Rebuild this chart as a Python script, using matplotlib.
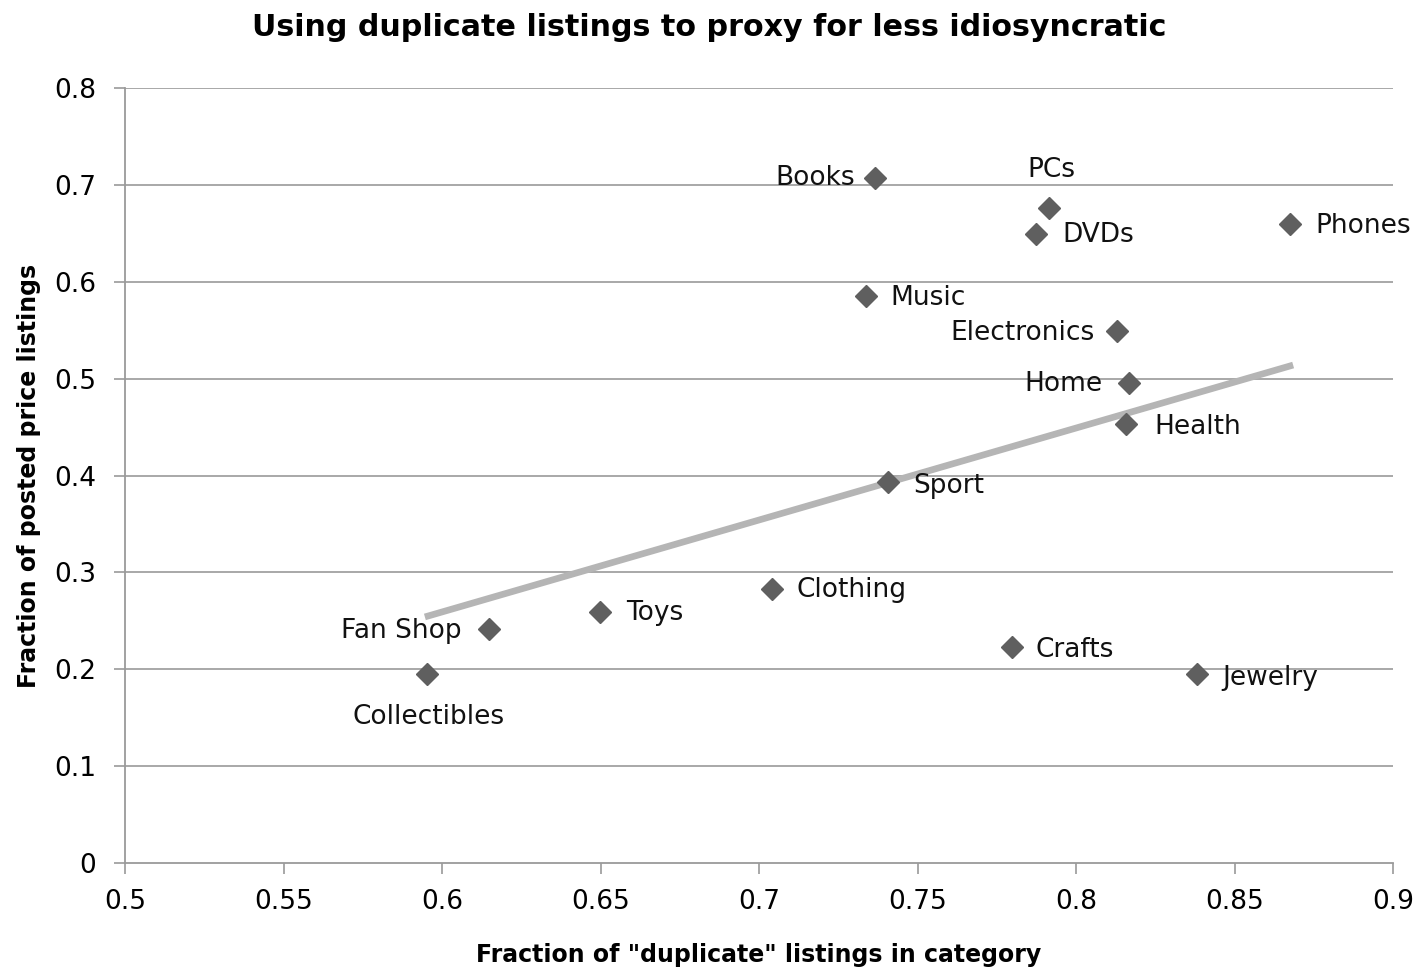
import matplotlib
matplotlib.use("Agg")
import matplotlib.pyplot as plt

categories = ["Books", "PCs", "DVDs", "Phones", "Music", "Electronics", "Home", "Health",
              "Sport", "Clothing", "Toys", "Fan Shop", "Collectibles", "Crafts", "Jewelry"]
dup_frac = [0.7366, 0.7915, 0.7874, 0.8675, 0.7338, 0.8129, 0.8167, 0.8158,
            0.7407, 0.7041, 0.6498, 0.6148, 0.5953, 0.7798, 0.8382]
posted_frac = [0.707, 0.676, 0.649, 0.660, 0.585, 0.549, 0.4955, 0.453,
               0.393, 0.283, 0.259, 0.2415, 0.195, 0.223, 0.195]
# trend line as drawn in the chart
trend_x = [0.5946, 0.8685]
trend_y = [0.254, 0.514]
x_ticks = [0.5, 0.55, 0.6, 0.65, 0.7, 0.75, 0.8, 0.85, 0.9]
x_tick_labels = ["0.5", "0.55", "0.6", "0.65", "0.7", "0.75", "0.8", "0.85", "0.9"]
y_ticks = [0, 0.1, 0.2, 0.3, 0.4, 0.5, 0.6, 0.7, 0.8]
y_tick_labels = ["0", "0.1", "0.2", "0.3", "0.4", "0.5", "0.6", "0.7", "0.8"]

# label placement: (dx, dy pixels, ha, va)
label_pos = {
    "Books": (-20, 0, "right", "center"),
    "PCs": (2, 38, "center", "center"),
    "DVDs": (26, -1, "left", "center"),
    "Phones": (25, -2, "left", "center"),
    "Music": (24, -2, "left", "center"),
    "Electronics": (-22, -2, "right", "center"),
    "Home": (-26, -1, "right", "center"),
    "Health": (28, -3, "left", "center"),
    "Sport": (25, -4, "left", "center"),
    "Clothing": (25, -1, "left", "center"),
    "Toys": (26, -1, "left", "center"),
    "Fan Shop": (-27, -2, "right", "center"),
    "Collectibles": (1, -43, "center", "center"),
    "Crafts": (24, -3, "left", "center"),
    "Jewelry": (25, -4, "left", "center"),
}

sans = ["DejaVu Sans"]

fig = plt.figure(figsize=(14.18, 9.69), dpi=100)
ax = fig.add_axes([125/1418, 1 - 863/969, (1393-125)/1418, (863-88)/969])

ax.set_xlim(0.5, 0.9)
ax.set_ylim(0, 0.8)

for y in y_ticks[1:]:
    ax.axhline(y, color="#9a9a9a", lw=1.2, zorder=0)

ax.plot(trend_x, trend_y, color="#b5b5b5", lw=4.8, solid_capstyle="butt", zorder=2)

ax.plot(dup_frac, posted_frac, linestyle="none", marker="D", ms=11.5, color="#5f5f5f",
        markeredgecolor="#5f5f5f", zorder=3)

for c, x, y in zip(categories, dup_frac, posted_frac):
    dx, dy, ha, va = label_pos[c]
    ax.annotate(c, (x, y), xytext=(dx, dy), textcoords="offset pixels",
                ha=ha, va=va, fontsize=19, family=sans, color="#111111", zorder=4)

for s in ["top", "right"]:
    ax.spines[s].set_visible(False)
for s in ["left", "bottom"]:
    ax.spines[s].set_color("#9a9a9a")
    ax.spines[s].set_linewidth(1.3)

ax.set_xticks(x_ticks)
ax.set_xticklabels(x_tick_labels, family=sans, fontsize=19)
ax.set_yticks(y_ticks)
ax.set_yticklabels(y_tick_labels, family=sans, fontsize=19)
ax.tick_params(axis="both", color="#9a9a9a", length=8, width=1.2, direction="out")
ax.tick_params(axis="x", pad=11)
ax.tick_params(axis="y", pad=13)

ax.set_xlabel('Fraction of "duplicate" listings in category', family=sans,
              fontsize=17, fontweight="bold", labelpad=20)
ax.set_ylabel("Fraction of posted price listings", family=sans,
              fontsize=17, fontweight="bold", labelpad=9)

fig.text(709/1418, 1 - 28/969, "Using duplicate listings to proxy for less idiosyncratic",
         ha="center", va="center", family=sans, fontsize=21.7, fontweight="bold")

fig.savefig("out.png", dpi=100)
